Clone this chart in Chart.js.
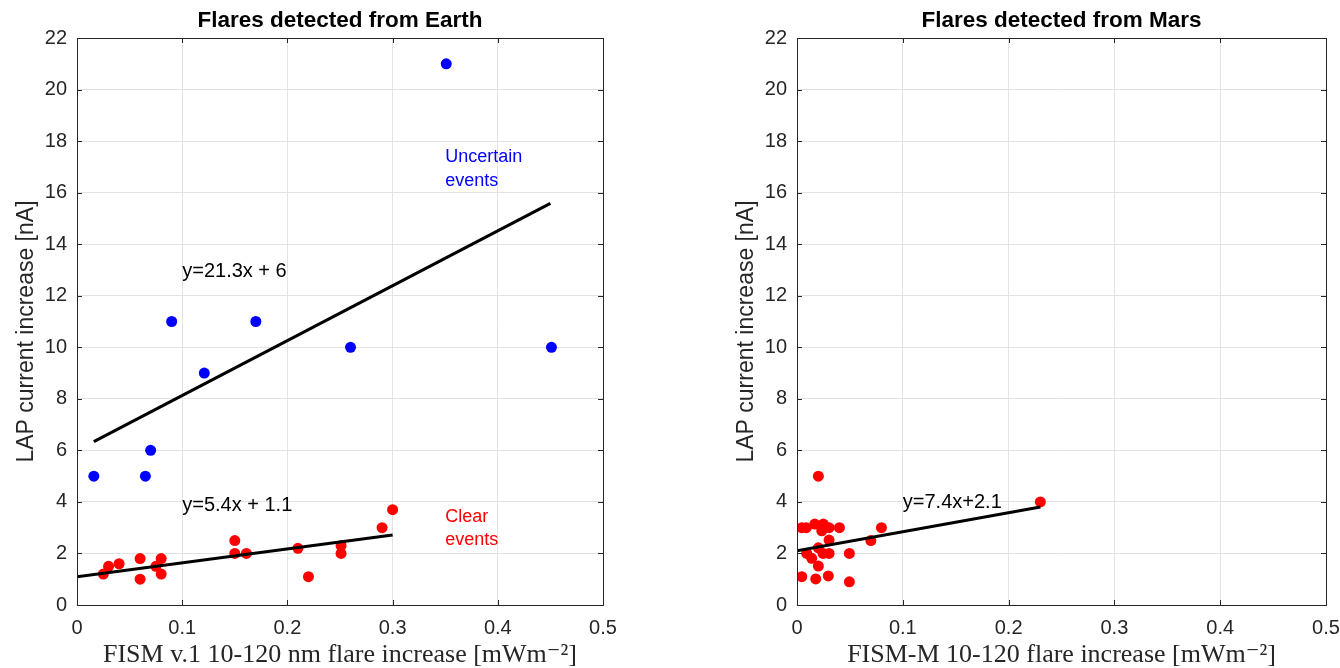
<!DOCTYPE html>
<html>
<head>
<meta charset="utf-8">
<script src="https://cdn.jsdelivr.net/npm/chart.js@4.4.0/dist/chart.umd.min.js"></script>
<style>
  html, body { margin: 0; padding: 0; background: #fff; }
  body { width: 1340px; height: 668px; position: relative; overflow: hidden; }
  canvas { position: absolute; top: 0; }
  #earth { left: 0; }
  #mars { left: 720px; }
</style>
</head>
<body>
<canvas id="earth" width="670" height="668"></canvas>
<canvas id="mars" width="620" height="668"></canvas>
<script>
// Flares seen from Earth: uncertain events (blue)
const earthUncertainX = [0.016, 0.065, 0.070, 0.090, 0.121, 0.170, 0.260, 0.351, 0.451];
const earthUncertainY = [5, 5, 6, 11, 9, 11, 10, 21, 10];

// Flares seen from Earth: clear events (red)
const earthClearX = [0.025, 0.030, 0.040, 0.060, 0.060, 0.075, 0.080, 0.080, 0.150,
                     0.150, 0.161, 0.210, 0.220, 0.251, 0.251, 0.290, 0.300];
const earthClearY = [1.2, 1.5, 1.6, 1.8, 1.0, 1.5, 1.8, 1.2, 2.5,
                     2.0, 2.0, 2.2, 1.1, 2.3, 2.0, 3.0, 3.7];

// Flares seen from Mars
const marsX = [0.0045, 0.0177, 0.0296, 0.0495, 0.0202, 0.0045, 0.0088, 0.0168, 0.0249,
               0.0234, 0.0303, 0.0401, 0.0798, 0.0303, 0.0698, 0.0092, 0.0139, 0.0202,
               0.0202, 0.0246, 0.0303, 0.0495, 0.23];
const marsY = [1.10, 1.01, 1.13, 0.90, 5.0, 3.0, 3.0, 3.14, 3.14,
               2.88, 3.0, 3.0, 3.0, 2.52, 2.5, 2.0, 1.81, 1.51,
               2.22, 2.0, 2.0, 2.0, 4.0];

// Linear fits: [slope, intercept], drawn over [xStart, xEnd]
const fitUncertain = [21.3, 6];
const fitUncertainRange = [0.016, 0.45];
const fitClear = [5.4, 1.1];
const fitClearRange = [0, 0.3];
const fitMars = [7.4, 2.1];
const fitMarsRange = [0, 0.23];

// Axis ticks
const xTicks = [0, 0.1, 0.2, 0.3, 0.4, 0.5];
const yTicks = [0, 2, 4, 6, 8, 10, 12, 14, 16, 18, 20, 22];

const AXIS_COLOR = '#262626';
const SANS = "'Liberation Sans', Arial, Helvetica, sans-serif";
const SERIF = "'Liberation Serif', 'DejaVu Serif', 'Times New Roman', serif";
const Y_TITLE = 'LAP current increase [nA]';

function pts(xs, ys) { return xs.map((x, i) => ({ x: x, y: ys[i] })); }
function fitLine(fit, range) {
  return range.map(x => ({ x: x, y: fit[0] * x + fit[1] }));
}

// Box outline, inward-pointing tick marks and the rotated y-axis label
const boxPlugin = {
  id: 'box',
  afterDraw(chart) {
    const ctx = chart.ctx, a = chart.chartArea;
    const xs = chart.scales.x, ys = chart.scales.y;
    const len = 5;
    ctx.save();
    ctx.strokeStyle = AXIS_COLOR;
    ctx.lineWidth = 1;
    ctx.beginPath();
    xTicks.forEach(v => {
      const p = Math.round(xs.getPixelForValue(v)) + 0.5;
      ctx.moveTo(p, a.bottom); ctx.lineTo(p, a.bottom - len);
      ctx.moveTo(p, a.top); ctx.lineTo(p, a.top + len);
    });
    yTicks.forEach(v => {
      const p = Math.round(ys.getPixelForValue(v)) + 0.5;
      ctx.moveTo(a.left, p); ctx.lineTo(a.left + len, p);
      ctx.moveTo(a.right, p); ctx.lineTo(a.right - len, p);
    });
    ctx.stroke();
    ctx.strokeRect(Math.round(a.left) + 0.5, Math.round(a.top) + 0.5,
                   Math.round(a.right - a.left), Math.round(a.bottom - a.top));

    ctx.translate(a.left - 50, (a.top + a.bottom) / 2 + 10);
    ctx.rotate(-Math.PI / 2);
    ctx.font = '23px ' + SANS;
    ctx.fillStyle = AXIS_COLOR;
    ctx.textAlign = 'center';
    ctx.textBaseline = 'middle';
    ctx.fillText(Y_TITLE, 0, 0);
    ctx.restore();
  }
};

// Text labels placed in data coordinates
function textPlugin(items) {
  return {
    id: 'notes',
    afterDatasetsDraw(chart) {
      const ctx = chart.ctx, xs = chart.scales.x, ys = chart.scales.y;
      ctx.save();
      ctx.textAlign = 'left';
      ctx.textBaseline = 'middle';
      items.forEach(t => {
        ctx.font = t.size + 'px ' + SANS;
        ctx.fillStyle = t.color;
        ctx.fillText(t.text, xs.getPixelForValue(t.x), ys.getPixelForValue(t.y));
      });
      ctx.restore();
    }
  };
}

function makeOptions(title, xTitle, rightPad) {
  return {
    responsive: false,
    animation: false,
    devicePixelRatio: 1,
    layout: { padding: { left: 0, right: rightPad, top: 0, bottom: 0 } },
    plugins: { legend: { display: false }, tooltip: { enabled: false }, title: { display: false } },
    scales: {
      x: {
        type: 'linear', position: 'bottom', min: 0, max: 0.5,
        afterBuildTicks(s) { s.ticks = xTicks.map(v => ({ value: v })); },
        afterFit(s) { s.height = 63; s.paddingLeft = 0; s.paddingRight = 0; },
        grid: { color: '#e3e3e3', lineWidth: 1, drawTicks: false },
        border: { display: false },
        ticks: {
          padding: 11, color: AXIS_COLOR, font: { family: SANS, size: 20 },
          callback: v => String(Number(v.toFixed(2)))
        },
        title: {
          display: true, text: xTitle, color: AXIS_COLOR,
          font: { family: SERIF, size: 26, lineHeight: 1 }, padding: { top: 0, bottom: 0 }
        }
      },
      xTop: {
        type: 'linear', position: 'top', min: 0, max: 0.5,
        afterFit(s) { s.height = 38; s.paddingLeft = 0; s.paddingRight = 0; },
        grid: { display: false, drawTicks: false },
        border: { display: false },
        ticks: { display: false },
        title: {
          display: true, text: title, color: '#000',
          font: { family: SANS, size: 22.5, weight: 'bold', lineHeight: 1.2 },
          padding: { top: 7, bottom: 0 }
        }
      },
      y: {
        type: 'linear', position: 'left', min: 0, max: 22,
        afterBuildTicks(s) { s.ticks = yTicks.map(v => ({ value: v })); },
        afterFit(s) { s.width = 77; s.paddingTop = 0; s.paddingBottom = 0; },
        grid: { color: '#e3e3e3', lineWidth: 1, drawTicks: false },
        border: { display: false },
        ticks: { padding: 10, color: AXIS_COLOR, font: { family: SANS, size: 20 } },
        title: { display: false }
      }
    }
  };
}

function scatterSet(data, color) {
  return {
    type: 'scatter', data: data, backgroundColor: color, borderWidth: 0,
    pointRadius: 5.5, pointHoverRadius: 5.5, order: 2
  };
}
function lineSet(data) {
  return {
    type: 'line', data: data, borderColor: '#000', borderWidth: 3,
    pointRadius: 0, fill: false, tension: 0, order: 1
  };
}

new Chart(document.getElementById('earth'), {
  type: 'scatter',
  data: {
    datasets: [
      scatterSet(pts(earthUncertainX, earthUncertainY), '#0000ff'),
      scatterSet(pts(earthClearX, earthClearY), '#ff0000'),
      lineSet(fitLine(fitUncertain, fitUncertainRange)),
      lineSet(fitLine(fitClear, fitClearRange))
    ]
  },
  options: makeOptions('Flares detected from Earth',
                       'FISM v.1 10-120 nm flare increase [mWm\u207B\u00B2]', 67),
  plugins: [boxPlugin, textPlugin([
    { text: 'Uncertain', x: 0.35, y: 17.38, color: '#0000ff', size: 18 },
    { text: 'events', x: 0.35, y: 16.45, color: '#0000ff', size: 18 },
    { text: 'Clear', x: 0.35, y: 3.41, color: '#ff0000', size: 18 },
    { text: 'events', x: 0.35, y: 2.52, color: '#ff0000', size: 18 },
    { text: 'y=21.3x + 6', x: 0.1, y: 12.96, color: '#000', size: 20 },
    { text: 'y=5.4x + 1.1', x: 0.1, y: 3.88, color: '#000', size: 20 }
  ])]
});

new Chart(document.getElementById('mars'), {
  type: 'scatter',
  data: {
    datasets: [
      scatterSet(pts(marsX, marsY), '#ff0000'),
      lineSet(fitLine(fitMars, fitMarsRange))
    ]
  },
  options: makeOptions('Flares detected from Mars',
                       'FISM-M 10-120 flare increase [mWm\u207B\u00B2]', 14),
  plugins: [boxPlugin, textPlugin([
    { text: 'y=7.4x+2.1', x: 0.1, y: 3.96, color: '#000', size: 20 }
  ])]
});
</script>
</body>
</html>
